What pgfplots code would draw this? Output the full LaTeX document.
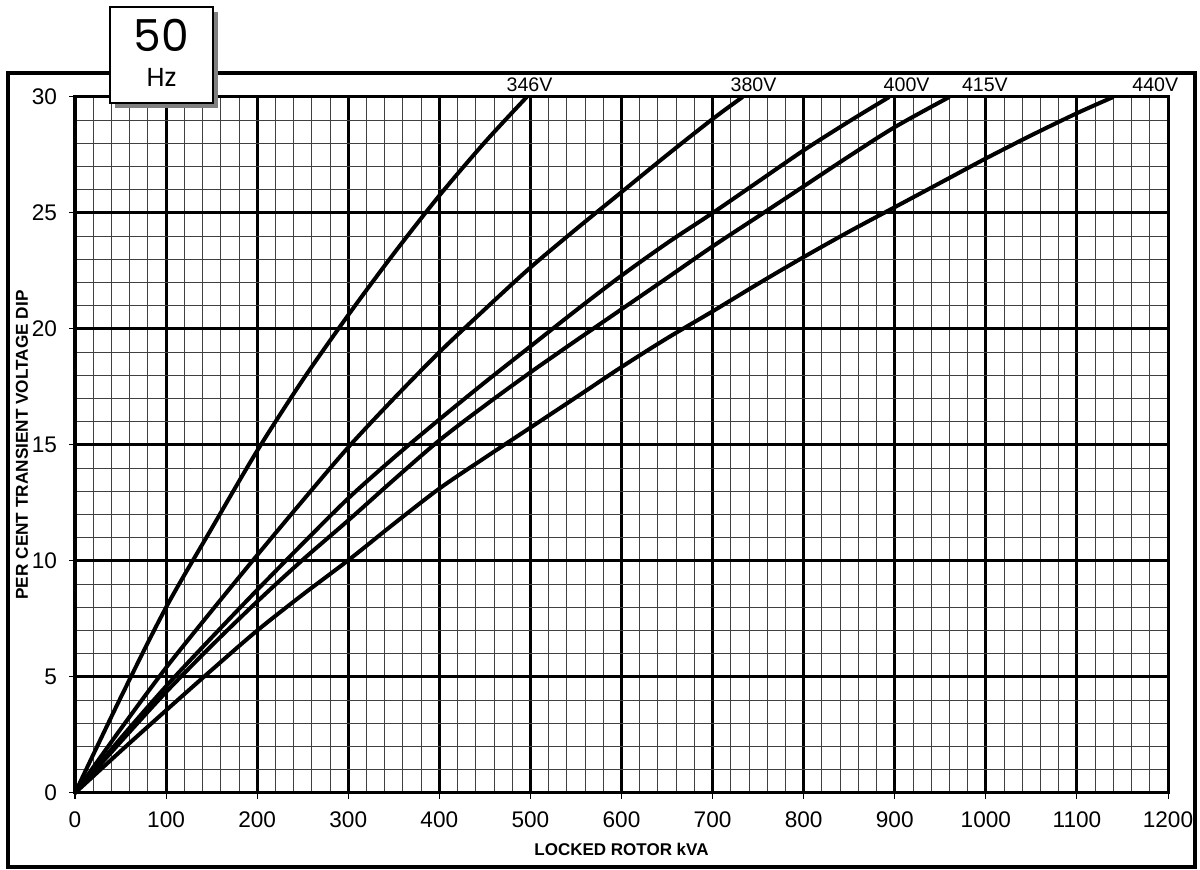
\documentclass[border=0pt]{standalone}
\usepackage{fontspec}
\setmainfont{Liberation Sans}
\newfontfamily\popfont{Poppins}
\usepackage{pgfplots}
\pgfplotsset{compat=1.18}
\begin{document}
\begin{tikzpicture}[x=1pt,y=1pt]
\useasboundingbox (0,0) rectangle (600,435);
\begin{axis}[
  at={(37.5pt,38.5pt)}, anchor=south west,
  scale only axis, width=546.5pt, height=348pt,
  xmin=0, xmax=1200, ymin=0, ymax=30,
  xtick={0,100,...,1200}, ytick={0,5,...,30},
  minor x tick num=4, minor y tick num=4,
  grid=both,
  major grid style={black, line width=1.5pt},
  minor grid style={black!75, line width=0.45pt},
  axis line style={black, line width=1.5pt},
  tick pos=left, tick align=outside,
  major tick length=3pt, minor tick length=0pt,
  major tick style={black, line width=0.5pt},
  scaled ticks=false,
  /pgf/number format/1000 sep={},
  /pgf/number format/assume math mode=true,
  ticklabel style={font=\fontsize{11.3}{13}\selectfont},
  xticklabel style={yshift=-3pt},
  yticklabel style={xshift=-2.5pt},
  clip=false,
]
\addplot[black, line width=2pt, smooth] coordinates {(0,0)(50,4.1)(100,8.0)(150,11.4)(200,14.75)(250,17.8)(300,20.6)(350,23.25)(400,25.75)(450,28.05)(496,30)};
\addplot[black, line width=2pt, smooth] coordinates {(0,0)(50,2.75)(100,5.4)(150,7.85)(200,10.25)(250,12.6)(300,14.9)(350,17.0)(400,19.0)(450,20.85)(500,22.65)(550,24.3)(600,25.9)(650,27.5)(700,29.05)(733,30)};
\addplot[black, line width=2pt, smooth] coordinates {(0,0)(50,2.35)(100,4.6)(150,6.7)(200,8.75)(250,10.75)(300,12.7)(350,14.45)(400,16.1)(450,17.7)(500,19.25)(550,20.8)(600,22.3)(650,23.7)(700,25.0)(750,26.35)(800,27.7)(850,28.95)(894,30)};
\addplot[black, line width=2pt, smooth] coordinates {(0,0)(50,2.2)(100,4.35)(150,6.35)(200,8.25)(250,10.05)(300,11.75)(350,13.5)(400,15.2)(450,16.7)(500,18.13)(550,19.5)(600,20.85)(650,22.2)(700,23.56)(750,24.85)(800,26.15)(850,27.45)(900,28.7)(960,30)};
\addplot[black, line width=2pt, smooth] coordinates {(0,0)(50,1.8)(100,3.56)(150,5.3)(200,7.0)(250,8.55)(300,10.03)(350,11.6)(400,13.12)(450,14.45)(500,15.75)(550,17.05)(600,18.36)(650,19.6)(700,20.76)(750,21.95)(800,23.1)(850,24.2)(900,25.25)(950,26.3)(1000,27.35)(1050,28.35)(1100,29.3)(1140,30)};
\node[anchor=base, font=\fontsize{9.8}{11}\selectfont, yshift=2.6pt] at (axis cs:499,30) {346V};
\node[anchor=base, font=\fontsize{9.8}{11}\selectfont, yshift=2.6pt] at (axis cs:745,30) {380V};
\node[anchor=base, font=\fontsize{9.8}{11}\selectfont, yshift=2.6pt] at (axis cs:913,30) {400V};
\node[anchor=base, font=\fontsize{9.8}{11}\selectfont, yshift=2.6pt] at (axis cs:999,30) {415V};
\node[anchor=base, font=\fontsize{9.8}{11}\selectfont, yshift=2.6pt] at (axis cs:1186,30) {440V};
\node[anchor=center, font=\bfseries\fontsize{8.5}{10}\selectfont, yshift=-28.25pt] at (rel axis cs:0.5,0) {LOCKED ROTOR kVA};
\node[anchor=center, rotate=90, font=\bfseries\fontsize{8.6}{10}\selectfont] at ([xshift=-26.5pt]rel axis cs:0,0.5) {PER CENT TRANSIENT VOLTAGE DIP};
\end{axis}
% outer frame
\draw[black, line width=2pt] (4,1.5) rectangle (597.5,398.5);
% 50 Hz box with shadow
\fill[black!50] (57.5,381) rectangle (109,429);
\draw[black, line width=1pt, fill=white] (55,383.5) rectangle (106.5,431.5);
\node[font=\popfont\fontsize{22}{24}\selectfont, inner sep=0pt] at (80.75,417.5) {50};
\node[font=\popfont\fontsize{13}{15}\selectfont, inner sep=0pt] at (80.75,396.5) {Hz};
\end{tikzpicture}
\end{document}
